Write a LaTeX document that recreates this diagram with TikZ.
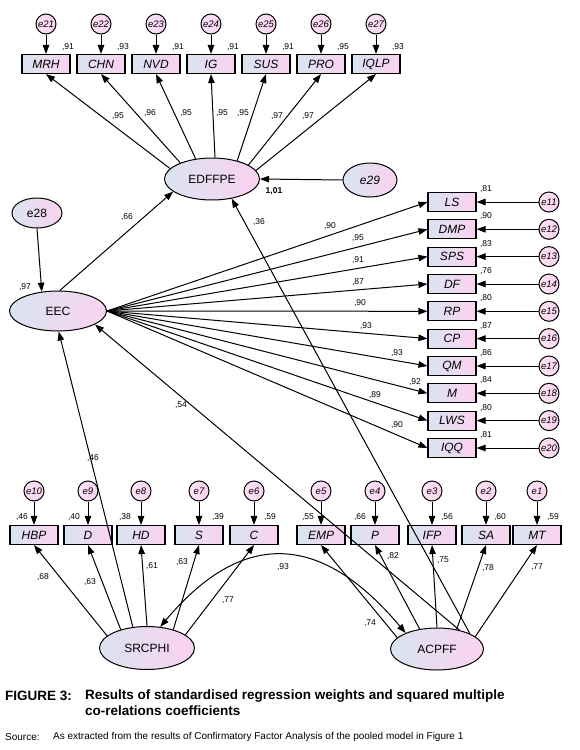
\documentclass[tikz,border=0pt]{standalone}
\usepackage{fontspec}
\setmainfont{Liberation Sans}
\usetikzlibrary{arrows.meta,shapes.geometric}
\definecolor{cgray}{RGB}{218,228,240}
\definecolor{cpink}{RGB}{250,210,240}
\begin{document}
\begin{tikzpicture}[x=1pt,y=-1pt,
  obs/.style={draw, line width=1.1pt, minimum width=48pt, minimum height=19pt, inner sep=0pt,
    left color=cgray, right color=cpink, font=\itshape\fontsize{12}{12}\selectfont},
  err/.style={circle, draw, line width=1pt, minimum size=20pt, inner sep=0pt,
    left color=cpink!60!white, right color=cpink, font=\itshape\fontsize{9.5}{9.5}\selectfont},
  lat/.style={ellipse, draw, line width=1pt, inner sep=0pt,
    left color=cgray, right color=cpink, font=\fontsize{12}{12}\selectfont},
  arr/.style={-{Triangle[length=9pt,width=6.5pt]}, line width=1pt},
  dblarr/.style={{Triangle[length=9pt,width=6.5pt]}-{Triangle[length=9pt,width=6.5pt]}, line width=1pt},
  num/.style={font=\fontsize{8.5}{8.5}\selectfont, inner sep=0pt},
  captext/.style={font=\bfseries\fontsize{13.5}{13.5}\selectfont, inner sep=0pt, anchor=west},
  srctext/.style={font=\fontsize{10}{10}\selectfont, inner sep=0pt, anchor=west}
]
\useasboundingbox[fill=white] (0,0) rectangle (580,750);

% ---------- top indicators ----------
\foreach \n/\t/\x/\e/\r in {mrh/MRH/46/21/91, chn/CHN/101/22/93, nvd/NVD/156/23/91, ig/IG/211/24/91,
    sus/SUS/266/25/91, pro/PRO/321/26/95, iqlp/IQLP/376/27/93}{
  \node[obs] (\n) at (\x,64) {\t};
  \node[err] (e\e) at (\x,24) {e\e};
  \node[num] (r\n) at (\x+22,47) {,\r};
  \draw[arr] (e\e) -- (\n);
}

% ---------- latent variables ----------
\node[lat, minimum width=95pt, minimum height=42pt] (edf) at (212,179) {EDFFPE};
\node[lat, minimum width=54pt, minimum height=34pt, font=\itshape\fontsize{12}{12}\selectfont] (e29) at (370,180) {e29};
\node[lat, minimum width=50pt, minimum height=30pt] (e28) at (37,213) {e28};
\node[lat, minimum width=97pt, minimum height=40pt] (eec) at (58,311) {EEC};
\node[lat, minimum width=95pt, minimum height=43pt] (srcp) at (147,648) {SRCPHI};
\node[lat, minimum width=93pt, minimum height=42pt] (acp) at (437,649) {ACPFF};

% EDFFPE -> top indicators
\draw[arr] (edf.166) -- (mrh.south);
\draw[arr] (edf.153) -- (chn.south);
\draw[arr] (edf.129) -- (nvd.south);
\draw[arr] (edf.82)  -- (ig.south);
\draw[arr] (edf.36)  -- (sus.south);
\draw[arr] (edf.21)  -- (pro.south);
\draw[arr] (edf.11)  -- (iqlp.south);
\node[num] (l1) at (118,116) {,95};
\node[num] (l2) at (150,113) {,96};
\node[num] (l3) at (186,113) {,95};
\node[num] (l4) at (222,113) {,95};
\node[num] (l5) at (243,113) {,95};
\node[num] (l6) at (277,116) {,97};
\node[num] (l7) at (308,116) {,97};

\draw[arr] (e29.west) -- (edf.east);
\node[num, font=\bfseries\fontsize{8.5}{8.5}\selectfont] (l101) at (274,191) {1,01};
\draw[arr] (e28.south) -- (eec.130);
\node[num] (l97) at (25,287) {,97};
\draw[arr] (eec.85) -- (edf.198);
\node[num] (l66) at (127,217) {,66};

% ---------- right indicators ----------
\foreach \n/\t/\y/\e/\r/\lx/\ly/\lv in {
    ls/LS/202/11/81/330/226/90, dmp/DMP/229.3/12/90/358/238/95, sps/SPS/256.6/13/83/358/260/91,
    df/DF/284/14/76/358/282/87, rp/RP/311.3/15/80/360/303/90, cp/CP/338.6/16/87/366/326/93,
    qm/QM/366/17/86/397/353/93, m/M/393.3/18/84/415/382/92, lws/LWS/420.6/19/80/375/395/89,
    iqq/IQQ/448/20/81/397/425/90}{
  \node[obs] (\n) at (452,\y) {\t};
  \node[err] (e\e) at (549,\y) {e\e};
  \node[num] (r\n) at (486,\y-13) {,\r};
  \draw[arr] (e\e) -- (\n);
  \draw[arr] (eec.east) -- (\n.west);
  \node[num] (p\n) at (\lx,\ly) {,\lv};
}

% ---------- bottom indicators ----------
\foreach \n/\t/\x/\e/\r/\rx in {hbp/HBP/34/10/46/22, d/D/88/9/40/74, hd/HD/141/8/38/125,
    s/S/199/7/39/218, c/C/254/6/59/270, emp/EMP/321/5/55/308, p/P/375/4/66/360,
    ifp/IFP/432/3/56/447, sa/SA/486/2/60/500, mt/MT/537/1/59/553}{
  \node[obs] (\n) at (\x,535) {\t};
  \node[err] (e\e) at (\x,491) {e\e};
  \node[num] (r\n) at (\rx,517) {,\r};
  \draw[arr] (e\e) -- (\n);
}

\draw[arr] (srcp.163) -- (hbp.south);
\draw[arr] (srcp.145) -- (d.south);
\draw[arr] (srcp.90)  -- (hd.south);
\draw[arr] (srcp.35)  -- (s.south);
\draw[arr] (srcp.19)  -- (c.south);
\draw[arr] (acp.164) -- (emp.south);
\draw[arr] (acp.131) -- (p.south);
\draw[arr] (acp.90)  -- (ifp.south);
\draw[arr] (acp.45)  -- (sa.south);
\draw[arr] (acp.18)  -- (mt.south);
\node[num] (b1) at (43,577) {,68};
\node[num] (b2) at (90,582) {,63};
\node[num] (b3) at (152,566) {,61};
\node[num] (b4) at (182,562) {,63};
\node[num] (b5) at (228,600) {,77};
\node[num] (b6) at (370,623) {,74};
\node[num] (b7) at (393,556) {,82};
\node[num] (b8) at (443,560) {,75};
\node[num] (b9) at (488,568) {,78};
\node[num] (b10) at (537,567) {,77};

% structural paths
\draw[arr] (srcp.124) -- (eec.272);
\node[num] (l46) at (93,458) {,46};
\draw[arr] (acp.40) -- (eec.340);
\node[num] (l54) at (181,405) {,54};
\draw[arr] (acp.25) -- (edf.315);
\node[num] (l36) at (259,222) {,36};

% covariance
\draw[dblarr] (srcp.58) to[out=50,in=130,looseness=1.35] (acp.153);
\node[num] (l93) at (283,567) {,93};

% ---------- caption ----------
\node[captext] (fig) at (5,696) {FIGURE 3:};
\node[captext] (ct1) at (85,696) {Results of standardised regression weights and squared multiple};
\node[captext] (ct2) at (85,711) {co-relations coefficients};
\node[srctext] (s1) at (5,737) {Source:};
\node[srctext] (s2) at (53,737) {As extracted from the results of Confirmatory Factor Analysis of the pooled model in Figure 1};
\end{tikzpicture}
\end{document}
